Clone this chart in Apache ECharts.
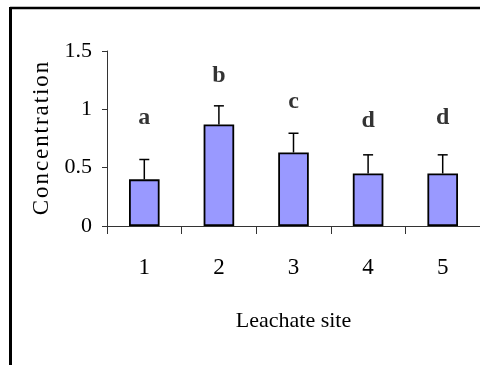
<!DOCTYPE html>
<html>
<head>
<meta charset="utf-8">
<script src="https://cdn.jsdelivr.net/npm/echarts@6/dist/echarts.min.js"></script>
<style>
  html, body { margin: 0; padding: 0; background: #fff; }
  #chart { width: 480px; height: 365px; }
</style>
</head>
<body>
<div id="chart"></div>
<script>
// Leachate sites and mean concentration with upper error (SE)
var sites = ['1', '2', '3', '4', '5'];
var concentration = [0.40, 0.87, 0.63, 0.45, 0.45];
var errors = [0.17, 0.16, 0.165, 0.16, 0.16];
// Significance group letters and the height (axis units) where each sits
var groupLetters = ['a', 'b', 'c', 'd', 'd'];
var letterHeights = [0.93, 1.285, 1.065, 0.90, 0.925];
var yTicks = [0, 0.5, 1, 1.5];

var serif = "'Liberation Serif', 'Times New Roman', serif";
var axisColor = '#333';

var chart = echarts.init(document.getElementById('chart'), null, { renderer: 'canvas' });

chart.setOption({
  animation: false,
  backgroundColor: '#fff',
  graphic: [
    { type: 'line', shape: { x1: 10, y1: 8, x2: 480, y2: 8 }, style: { stroke: '#000', lineWidth: 2.5 } },
    { type: 'line', shape: { x1: 10.5, y1: 7, x2: 10.5, y2: 365 }, style: { stroke: '#000', lineWidth: 3 } }
  ],
  grid: { left: 107, top: 51, width: 375, height: 175, containLabel: false },
  xAxis: {
    type: 'category',
    data: sites,
    boundaryGap: true,
    axisLine: { show: true, lineStyle: { color: axisColor, width: 1 } },
    axisTick: { show: true, length: 8, lineStyle: { color: axisColor } },
    axisLabel: { color: '#000', fontFamily: serif, fontSize: 23, margin: 30 },
    name: 'Leachate site',
    nameLocation: 'middle',
    nameGap: 84,
    nameTextStyle: { color: '#000', fontFamily: serif, fontSize: 22 }
  },
  yAxis: {
    type: 'value',
    min: 0,
    max: 1.5,
    interval: 0.5,
    axisLine: { show: true, lineStyle: { color: axisColor, width: 1 } },
    axisTick: { show: true, length: 5, lineStyle: { color: axisColor } },
    splitLine: { show: false },
    axisLabel: {
      color: '#000', fontFamily: serif, fontSize: 22, margin: 15,
      formatter: function (v) {
        var hit = yTicks.filter(function (t) { return Math.abs(t - v) < 1e-9; });
        return hit.length ? String(hit[0]) : '';
      }
    },
    name: 'C\u200Ao\u200An\u200Ac\u200Ae\u200An\u200At\u200Ar\u200Aa\u200At\u200Ai\u200Ao\u200An',
    nameLocation: 'middle',
    nameGap: 52,
    nameRotate: 90,
    nameTextStyle: { color: '#000', fontFamily: serif, fontSize: 23 }
  },
  series: [
    {
      type: 'bar',
      data: concentration,
      barWidth: '41%',
      itemStyle: { color: '#9999FF', borderColor: '#000', borderWidth: 1.8 },
      z: 2
    },
    {
      type: 'custom',
      data: concentration.map(function (v, i) { return [i, v, v + errors[i]]; }),
      renderItem: function (params, api) {
        var base = api.coord([api.value(0), api.value(1)]);
        var top = api.coord([api.value(0), api.value(2)]);
        var cap = 5;
        return {
          type: 'group',
          children: [
            { type: 'line', shape: { x1: base[0], y1: base[1], x2: top[0], y2: top[1] }, style: { stroke: '#000', lineWidth: 1.5 } },
            { type: 'line', shape: { x1: top[0] - cap, y1: top[1], x2: top[0] + cap, y2: top[1] }, style: { stroke: '#000', lineWidth: 1.5 } }
          ]
        };
      },
      z: 3
    },
    {
      type: 'scatter',
      data: letterHeights.map(function (h, i) { return [i, h]; }),
      symbolSize: 0,
      label: {
        show: true,
        position: 'inside',
        formatter: function (p) { return groupLetters[p.dataIndex]; },
        color: '#000',
        fontFamily: serif,
        fontWeight: 'bold',
        fontSize: 24
      },
      z: 4
    }
  ]
});
</script>
</body>
</html>
